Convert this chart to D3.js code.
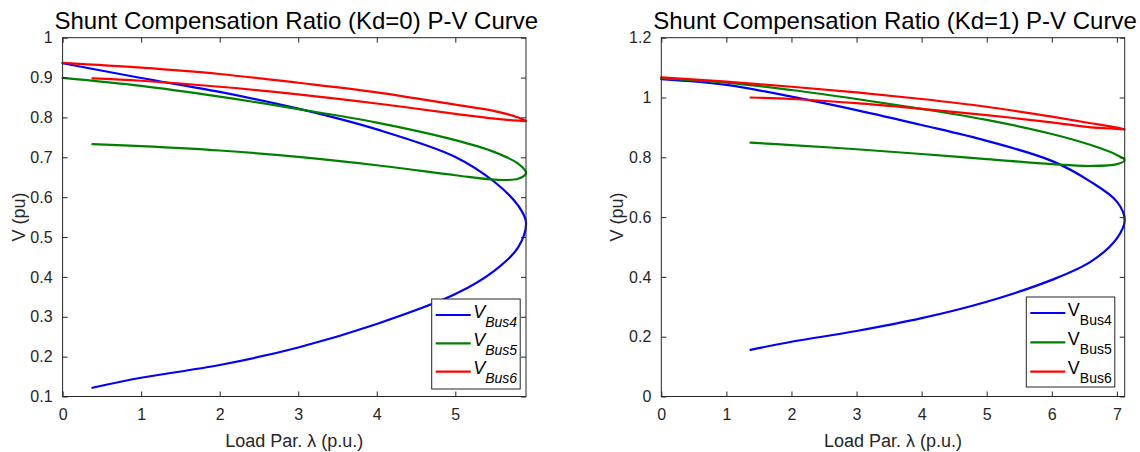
<!DOCTYPE html>
<html>
<head>
<meta charset="utf-8">
<script src="https://cdn.jsdelivr.net/npm/d3@7"></script>
<style>
  html, body { margin: 0; padding: 0; background: #fff; }
  svg { display: block; font-family: "Liberation Sans", Arial, Helvetica, sans-serif; }
</style>
</head>
<body>
<svg id="chart" width="1140" height="452"></svg>
<script>
// ---------------- DATA ----------------
// Kd = 0 panel
const kd0LambdaUpper = [0, 1, 2, 3, 4, 5, 5.5, 5.8, 5.9];
const kd0LambdaLower = [5.8, 5.5, 5, 4, 3, 2, 1, 0.38];
const kd0Bus4Upper = [0.936, 0.899, 0.864, 0.822, 0.770, 0.701, 0.638, 0.579, 0.537];
const kd0Bus4Lower = [0.474, 0.416, 0.357, 0.282, 0.223, 0.179, 0.147, 0.122];
const kd0Bus5Upper = [0.899, 0.879, 0.852, 0.821, 0.787, 0.743, 0.713, 0.684, 0.661];
const kd0Bus5Lower = [0.646, 0.644, 0.655, 0.680, 0.701, 0.717, 0.728, 0.733];
const kd0Bus6Upper = [0.937, 0.925, 0.909, 0.887, 0.863, 0.832, 0.816, 0.800, 0.791];
const kd0Bus6Lower = [0.792, 0.797, 0.809, 0.835, 0.858, 0.877, 0.892, 0.898];

// Kd = 1 panel
const kd1LambdaUpper = [0, 1, 2, 3, 4, 5, 6, 6.6, 7.0, 7.12];
const kd1LambdaLower = [7.0, 6.6, 6, 5, 4, 3, 2, 1.37];
const kd1Bus4Upper = [1.061, 1.042, 1.003, 0.958, 0.908, 0.855, 0.788, 0.718, 0.652, 0.590];
const kd1Bus4Lower = [0.529, 0.451, 0.390, 0.317, 0.262, 0.219, 0.183, 0.156];
const kd1Bus5Upper = [1.064, 1.050, 1.025, 0.995, 0.962, 0.925, 0.878, 0.841, 0.808, 0.791];
const kd1Bus5Lower = [0.777, 0.771, 0.777, 0.794, 0.811, 0.827, 0.841, 0.849];
const kd1Bus6Upper = [1.067, 1.053, 1.036, 1.017, 0.995, 0.969, 0.936, 0.914, 0.899, 0.893];
const kd1Bus6Lower = [0.895, 0.900, 0.917, 0.941, 0.962, 0.981, 0.995, 1.000];

// Axis ticks / labels
const kd0XTicks = [0, 1, 2, 3, 4, 5];
const kd0YTicks = [0.1, 0.2, 0.3, 0.4, 0.5, 0.6, 0.7, 0.8, 0.9, 1];
const kd1XTicks = [0, 1, 2, 3, 4, 5, 6, 7];
const kd1YTicks = [0, 0.2, 0.4, 0.6, 0.8, 1, 1.2];
const seriesNames = ["Bus4", "Bus5", "Bus6"];
const seriesColors = ["#0000ff", "#008000", "#ff0000"];
const titles = ["Shunt Compensation Ratio (Kd=0) P-V Curve", "Shunt Compensation Ratio (Kd=1) P-V Curve"];
const xLabel = "Load Par. \u03bb (p.u.)";
const yLabel = "V (pu)";

// ---------------- BUILD ----------------
function branch(lu, vu, ll, vl) {
  return lu.map((l, i) => [l, vu[i]]).concat(ll.map((l, i) => [l, vl[i]]));
}

const panels = [
  {
    title: titles[0], left: 62.6, right: 526, xDomain: [0, 5.9], yDomain: [0.1, 1],
    xTicks: kd0XTicks, yTicks: kd0YTicks, yFmt: d3.format("~g"), italic: true,
    series: [
      branch(kd0LambdaUpper, kd0Bus4Upper, kd0LambdaLower, kd0Bus4Lower),
      branch(kd0LambdaUpper, kd0Bus5Upper, kd0LambdaLower, kd0Bus5Lower),
      branch(kd0LambdaUpper, kd0Bus6Upper, kd0LambdaLower, kd0Bus6Lower)
    ],
    legend: { x: 431.7, y: 299, w: 88.5, h: 90, dy: 28.3 }
  },
  {
    title: titles[1], left: 661.3, right: 1124.7, xDomain: [0, 7.12], yDomain: [0, 1.2],
    xTicks: kd1XTicks, yTicks: kd1YTicks, yFmt: d3.format("~g"), italic: false,
    series: [
      branch(kd1LambdaUpper, kd1Bus4Upper, kd1LambdaLower, kd1Bus4Lower),
      branch(kd1LambdaUpper, kd1Bus5Upper, kd1LambdaLower, kd1Bus5Lower),
      branch(kd1LambdaUpper, kd1Bus6Upper, kd1LambdaLower, kd1Bus6Lower)
    ],
    legend: { x: 1026.3, y: 297, w: 88.5, h: 90, dy: 29.3 }
  }
];

const plotTop = 37.7, plotBottom = 396.5;
const axisColor = "#262626";
const svg = d3.select("#chart");

panels.forEach((p, pi) => {
  const x = d3.scaleLinear().domain(p.xDomain).range([p.left, p.right]);
  const y = d3.scaleLinear().domain(p.yDomain).range([plotBottom, plotTop]);
  const g = svg.append("g");

  g.append("rect").attr("x", p.left).attr("y", plotTop)
    .attr("width", p.right - p.left).attr("height", plotBottom - plotTop).attr("fill", "#fff");

  // curves
  const clipId = "clip" + pi;
  svg.append("clipPath").attr("id", clipId).append("rect")
    .attr("x", p.left - 2).attr("y", plotTop).attr("width", p.right - p.left + 4).attr("height", plotBottom - plotTop);
  const line = d3.line().x(d => x(d[0])).y(d => y(d[1])).curve(d3.curveCatmullRom.alpha(0.5));
  p.series.forEach((s, i) => {
    g.append("path").attr("d", line(s)).attr("fill", "none")
      .attr("stroke", seriesColors[i]).attr("stroke-width", 2.2)
      .attr("stroke-linejoin", "round").attr("stroke-linecap", "round")
      .attr("clip-path", `url(#${clipId})`);
  });

  // axes
  const styleAxis = sel => {
    sel.select(".domain").remove();
    sel.selectAll("line").attr("stroke", axisColor).attr("stroke-width", 1);
    sel.selectAll("text").attr("fill", axisColor).style("font-size", "16px")
      .style("font-family", '"Liberation Sans", Arial, sans-serif');
  };
  g.append("g").attr("transform", `translate(0,${plotBottom})`)
    .call(d3.axisBottom(x).tickValues(p.xTicks).tickSize(-5).tickPadding(12).tickFormat(d3.format("d")))
    .call(styleAxis);
  g.append("g").attr("transform", `translate(0,${plotTop})`)
    .call(d3.axisTop(x).tickValues(p.xTicks).tickSize(-5).tickFormat(""))
    .call(styleAxis);
  g.append("g").attr("transform", `translate(${p.left},0)`)
    .call(d3.axisLeft(y).tickValues(p.yTicks).tickSize(-5).tickPadding(10).tickFormat(p.yFmt))
    .call(styleAxis);
  g.append("g").attr("transform", `translate(${p.right},0)`)
    .call(d3.axisRight(y).tickValues(p.yTicks).tickSize(-5).tickFormat(""))
    .call(styleAxis);

  // box
  g.append("rect").attr("x", p.left).attr("y", plotTop)
    .attr("width", p.right - p.left).attr("height", plotBottom - plotTop)
    .attr("fill", "none").attr("stroke", axisColor).attr("stroke-width", 1);

  // title
  g.append("text").attr("x", (p.left + p.right) / 2 + 2).attr("y", 29)
    .attr("text-anchor", "middle").attr("fill", "#000").style("font-size", "24px")
    .text(p.title);

  // x label
  g.append("text").attr("x", (p.left + p.right) / 2).attr("y", 447)
    .attr("text-anchor", "middle").attr("fill", axisColor).style("font-size", "18px")
    .text(xLabel);

  // y label
  g.append("text")
    .attr("transform", `translate(${p.left - 38},${(plotTop + plotBottom) / 2}) rotate(-90)`)
    .attr("text-anchor", "middle").attr("fill", axisColor).style("font-size", "18px")
    .text(yLabel);

  // legend
  const L = p.legend;
  const lg = g.append("g");
  lg.append("rect").attr("x", L.x).attr("y", L.y).attr("width", L.w).attr("height", L.h)
    .attr("fill", "#fff").attr("stroke", axisColor).attr("stroke-width", 1);
  seriesNames.forEach((name, i) => {
    const cy = L.y + 16 + i * L.dy;
    lg.append("line").attr("x1", L.x + 4).attr("x2", L.x + 39).attr("y1", cy).attr("y2", cy)
      .attr("stroke", seriesColors[i]).attr("stroke-width", 2.2);
    const t = lg.append("text").attr("x", L.x + 41.5).attr("y", cy + 2.5).attr("fill", "#000")
      .style("font-style", p.italic ? "italic" : "normal");
    t.append("tspan").style("font-size", "18px").text("V");
    t.append("tspan").attr("dy", 9).style("font-size", "14px").text(name);
  });
});
</script>
</body>
</html>
